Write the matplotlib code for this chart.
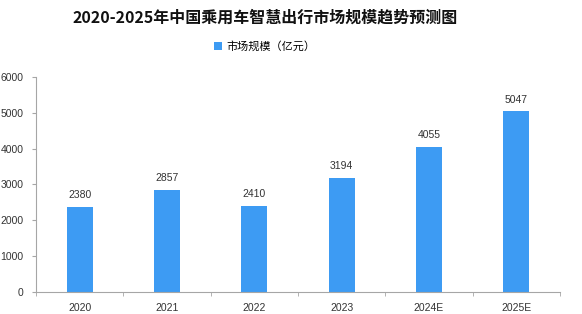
import numpy as np
import matplotlib.pyplot as plt
from matplotlib.ticker import FixedLocator

plt.rcParams['font.family'] = ['Noto Sans CJK SC', 'DejaVu Sans']

years = ['2020', '2021', '2022', '2023', '2024E', '2025E']
market_size = [2380, 2857, 2410, 3194, 4055, 5047]
title = '2020-2025年中国乘用车智慧出行市场规模趋势预测图'
series_name = '市场规模（亿元）'

bar_color = '#3d9bf3'
axis_color = '#a6a6a6'

fig = plt.figure(figsize=(5.82, 3.14), dpi=100)
ax = fig.add_axes([0.062, 0.070, 0.900, 0.685])

x = np.arange(len(years))
bars = ax.bar(x, market_size, width=0.3, color=bar_color, label=series_name)
for xi, v in zip(x, market_size):
    ax.text(xi, v + 180, str(v), ha='center', va='bottom', fontsize=7.5,
            color='#333333', family='Liberation Sans')

ax.set_xlim(-0.5, len(years) - 0.5)
ax.set_ylim(0, 6000)
ax.set_yticks(range(0, 6001, 1000))
ax.set_xticks(x)
ax.set_xticklabels(years, fontsize=7.5, color='#333333', family='Liberation Sans')
ax.tick_params(axis='x', length=0, pad=8)
ax.xaxis.set_minor_locator(FixedLocator(np.arange(-0.5, len(years), 1.0)))
ax.tick_params(axis='x', which='minor', length=3, color=axis_color, direction='out')
for lbl in ax.get_yticklabels():
    lbl.set_family('Liberation Sans')
ax.tick_params(axis='y', labelsize=7.5, labelcolor='#333333', length=3,
               color=axis_color, pad=6)

for side in ['top', 'right']:
    ax.spines[side].set_visible(False)
ax.spines['left'].set_color(axis_color)
ax.spines['bottom'].set_color(axis_color)

fig.text(0.455, 0.945, title, ha='center', va='center', fontsize=11.5,
         fontweight='bold', color='#111111')
fig.legend(handles=[bars], labels=[series_name], loc='center',
           bbox_to_anchor=(0.455, 0.853), frameon=False, fontsize=8,
           handlelength=0.7, handleheight=0.7, handletextpad=0.4)

fig.savefig('out.png', dpi=100)
